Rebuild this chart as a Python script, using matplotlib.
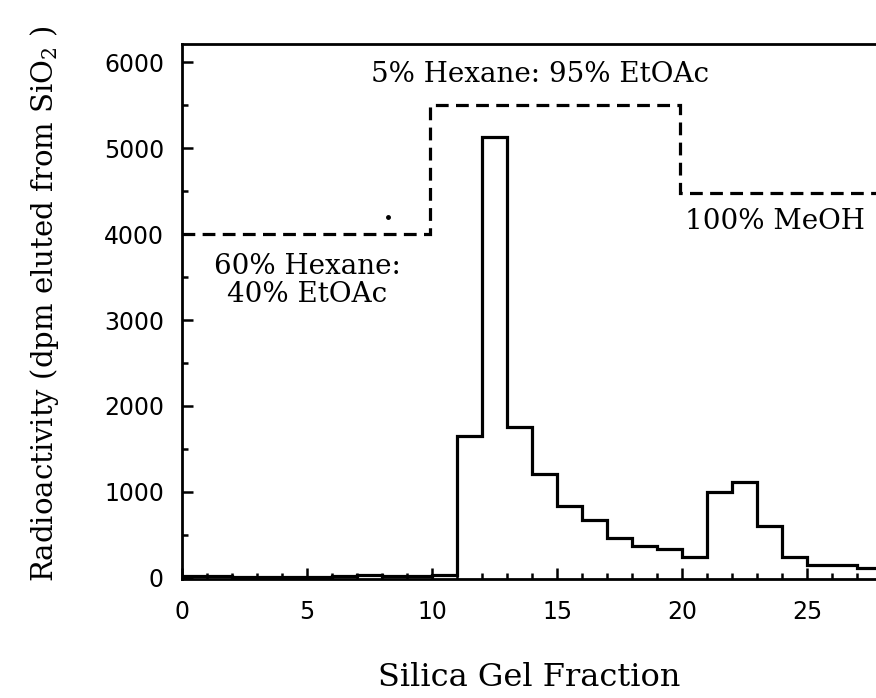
import matplotlib
matplotlib.use("Agg")
import matplotlib.pyplot as plt
import numpy as np
from matplotlib.ticker import MultipleLocator

plt.rcParams['font.family'] = 'DejaVu Serif'
plt.rcParams['mathtext.fontset'] = 'dejavuserif'

# ---------------- data ----------------
# one bin per silica gel fraction, edges 0..28
fraction_edges = np.arange(0, 29)
activity = [25, 20, 10, 10, 10, 10, 25, 30, 15, 15, 35,
            1655, 5130, 1755, 1205, 830, 670, 465, 370, 330, 245,
            1000, 1110, 605, 240, 150, 150, 110]

# solvent gradient (dashed line, arbitrary height levels)
solvent_edges = [0, 9.9, 19.9, 28]
solvent_level = [4000, 5500, 4480]

solvent_labels = ["60% Hexane:\n40% EtOAc", "5% Hexane: 95% EtOAc", "100% MeOH"]
label_x = [5.0, 14.3, 23.7]
label_y = [3460, 5860, 4150]

# stray speck in the scan
speck_x, speck_y = [8.25], [4200]

lw = 2.3
x_max = 27.76

fig = plt.figure(figsize=(8.76, 6.98), dpi=100)
ax = fig.add_axes([0.2078, 0.1705, 1 - 0.2078, 0.7665])

ax.stairs(activity, fraction_edges, color='black', linewidth=lw, baseline=0)
ax.stairs(solvent_level, solvent_edges, color='black', linewidth=lw,
          linestyle=(0, (4, 2.3)), baseline=None)
ax.plot(speck_x, speck_y, 'o', color='black', markersize=2.5)

for txt, x, y in zip(solvent_labels, label_x, label_y):
    ax.text(x, y, txt, ha='center', va='center', fontsize=20,
            linespacing=1.05)

ax.set_xlim(0, x_max)
ax.set_ylim(-15, 6215)

ax.xaxis.set_major_locator(MultipleLocator(5))
ax.xaxis.set_minor_locator(MultipleLocator(1))
ax.yaxis.set_major_locator(MultipleLocator(1000))
ax.yaxis.set_minor_locator(MultipleLocator(500))

ax.tick_params(which='both', direction='in', width=1.8)
ax.tick_params(which='major', length=8)
ax.tick_params(which='minor', length=4.5)
ax.tick_params(axis='x', pad=15, labelsize=17)
ax.tick_params(axis='y', pad=13, labelsize=17)
for lab in ax.get_xticklabels() + ax.get_yticklabels():
    lab.set_fontfamily('DejaVu Sans')

for side in ['left', 'bottom', 'top']:
    ax.spines[side].set_linewidth(2.0)
ax.spines['right'].set_visible(False)

ax.set_xlabel('Silica Gel Fraction', fontsize=23)
ax.xaxis.set_label_coords(0.5, -0.155)
ax.set_ylabel(r'Radioactivity (dpm eluted from SiO$_2$ )', fontsize=21)
ax.yaxis.set_label_coords(-0.175, 0.515)

fig.savefig('out.png', dpi=100)
